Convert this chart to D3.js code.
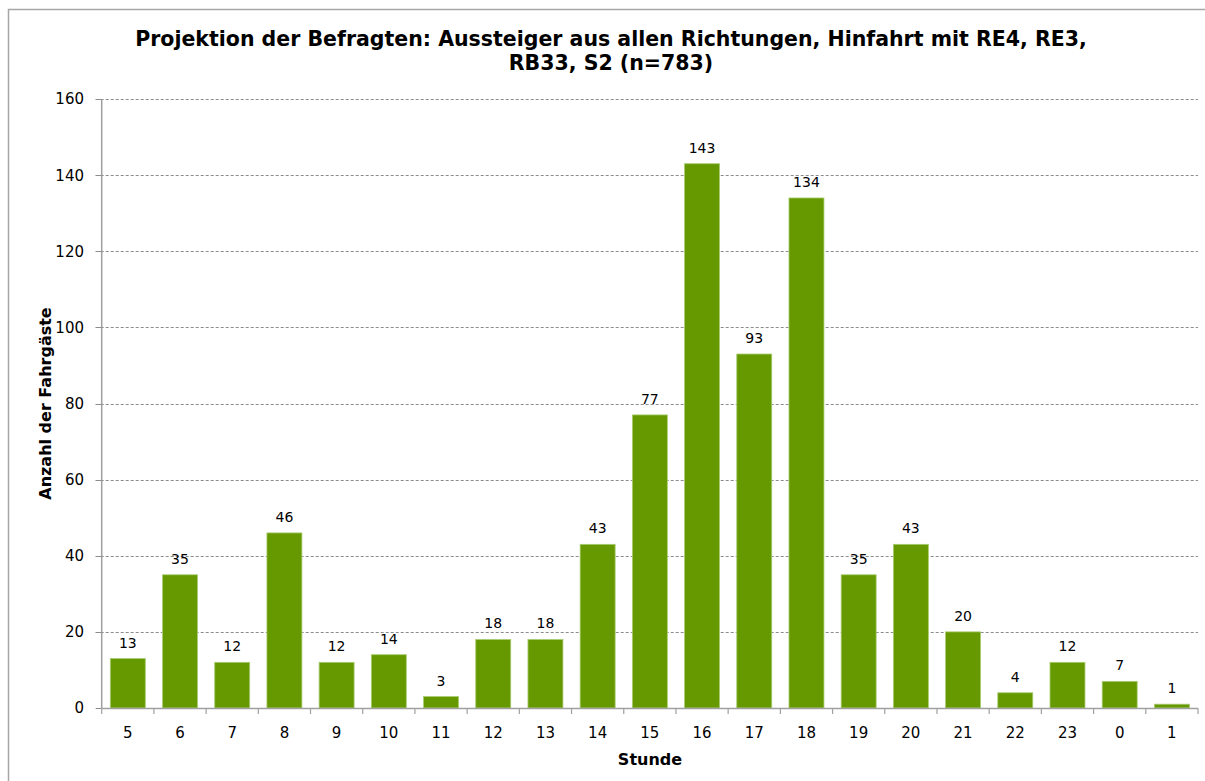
<!DOCTYPE html>
<html>
<head lang="de">
    <meta charset="UTF-8">
    <title>Projektion der Befragten</title>
    <script src="https://cdn.jsdelivr.net/npm/d3@7/dist/d3.min.js"></script>
    <style>
        body { margin: 0; background: #fff; }
        text { font-family: "DejaVu Sans", Verdana, sans-serif; fill: #000; }
        .title { font-weight: bold; font-size: 20.5px; }
        .axis-title { font-weight: bold; font-size: 16px; }
        .tick-label { font-size: 15px; }
        .value { font-size: 14px; }
    </style>
</head>
<body>
<script>

    // hours of the day (Stunde) and number of passengers
    var hours = ["5", "6", "7", "8", "9", "10", "11", "12", "13", "14", "15",
        "16", "17", "18", "19", "20", "21", "22", "23", "0", "1"];
    var counts = [13, 35, 12, 46, 12, 14, 3, 18, 18, 43, 77,
        143, 93, 134, 35, 43, 20, 4, 12, 7, 1];
    var yTicks = [0, 20, 40, 60, 80, 100, 120, 140, 160];

    var width = 1205,
        height = 781;

    var mLeft = 101.7, mRight = 1198, mTop = 99, mBottom = 708;

    var svg = d3.select("body").append("svg")
        .attr("width", width)
        .attr("height", height);

    // chart border (only top and left are visible in the frame)
    svg.append("rect")
        .attr("x", 8.5).attr("y", 9.5)
        .attr("width", 1220).attr("height", 800)
        .attr("fill", "none")
        .attr("stroke", "#a6a6a6")
        .attr("stroke-width", 1.5);

    var x = d3.scaleBand()
        .domain(hours)
        .range([mLeft, mRight])
        .paddingInner(0.33)
        .paddingOuter(0.165);

    var step = (mRight - mLeft) / hours.length;

    var y = d3.scaleLinear()
        .domain([0, 160])
        .range([mBottom, mTop]);

    // gridlines
    svg.append("g").selectAll("line")
        .data(yTicks.filter(function(d) { return d > 0; }))
        .enter().append("line")
        .attr("x1", mLeft - 6).attr("x2", mRight)
        .attr("y1", function(d) { return Math.round(y(d)) + 0.5; })
        .attr("y2", function(d) { return Math.round(y(d)) + 0.5; })
        .attr("stroke", "#8c8c8c")
        .attr("stroke-dasharray", "3,2");

    // bars
    svg.append("g").selectAll("rect")
        .data(counts)
        .enter().append("rect")
        .attr("x", function(d, i) { return x(hours[i]); })
        .attr("y", function(d) { return y(d); })
        .attr("width", x.bandwidth())
        .attr("height", function(d) { return mBottom - y(d); })
        .attr("fill", "#669900")
        .attr("stroke", "#a8cc70")
        .attr("stroke-width", 0.8);

    // value labels
    svg.append("g").selectAll("text")
        .data(counts)
        .enter().append("text")
        .attr("class", "value")
        .attr("x", function(d, i) { return x(hours[i]) + x.bandwidth() / 2; })
        .attr("y", function(d) { return y(d) - 11; })
        .attr("text-anchor", "middle")
        .text(function(d) { return d; });

    // y axis
    var yAxis = svg.append("g");
    yAxis.append("line")
        .attr("x1", mLeft).attr("x2", mLeft)
        .attr("y1", mTop).attr("y2", mBottom)
        .attr("stroke", "#a0a0a0").attr("stroke-width", 1.5);
    yAxis.selectAll("line.tick")
        .data(yTicks)
        .enter().append("line")
        .attr("class", "tick")
        .attr("x1", mLeft - 6).attr("x2", mLeft)
        .attr("y1", function(d) { return Math.round(y(d)) + 0.5; })
        .attr("y2", function(d) { return Math.round(y(d)) + 0.5; })
        .attr("stroke", "#8c8c8c");
    yAxis.selectAll("text")
        .data(yTicks)
        .enter().append("text")
        .attr("class", "tick-label")
        .attr("x", 84)
        .attr("y", function(d) { return y(d); })
        .attr("dy", "0.36em")
        .attr("text-anchor", "end")
        .text(function(d) { return d; });

    // x axis
    var xAxis = svg.append("g");
    xAxis.append("line")
        .attr("x1", mLeft).attr("x2", mRight)
        .attr("y1", mBottom + 0.5).attr("y2", mBottom + 0.5)
        .attr("stroke", "#a0a0a0").attr("stroke-width", 1.5);
    xAxis.selectAll("line.tick")
        .data(d3.range(hours.length + 1))
        .enter().append("line")
        .attr("class", "tick")
        .attr("x1", function(i) { return mLeft + i * step; })
        .attr("x2", function(i) { return mLeft + i * step; })
        .attr("y1", mBottom).attr("y2", mBottom + 6)
        .attr("stroke", "#a0a0a0").attr("stroke-width", 1.2);
    xAxis.selectAll("text")
        .data(hours)
        .enter().append("text")
        .attr("class", "tick-label")
        .attr("x", function(d) { return x(d) + x.bandwidth() / 2; })
        .attr("y", 738)
        .attr("text-anchor", "middle")
        .text(function(d) { return d; });

    // axis titles
    svg.append("text")
        .attr("class", "axis-title")
        .attr("x", 650).attr("y", 765)
        .attr("text-anchor", "middle")
        .text("Stunde");

    svg.append("text")
        .attr("class", "axis-title")
        .attr("transform", "translate(51," + ((mTop + mBottom) / 2) + ") rotate(-90)")
        .attr("text-anchor", "middle")
        .text("Anzahl der Fahrgäste");

    // title
    var title = svg.append("text")
        .attr("class", "title")
        .attr("text-anchor", "middle");
    title.append("tspan")
        .attr("x", 611).attr("y", 46)
        .text("Projektion der Befragten: Aussteiger aus allen Richtungen, Hinfahrt mit RE4, RE3,");
    title.append("tspan")
        .attr("x", 611).attr("y", 70)
        .text("RB33, S2 (n=783)");

</script>
</body>
</html>
